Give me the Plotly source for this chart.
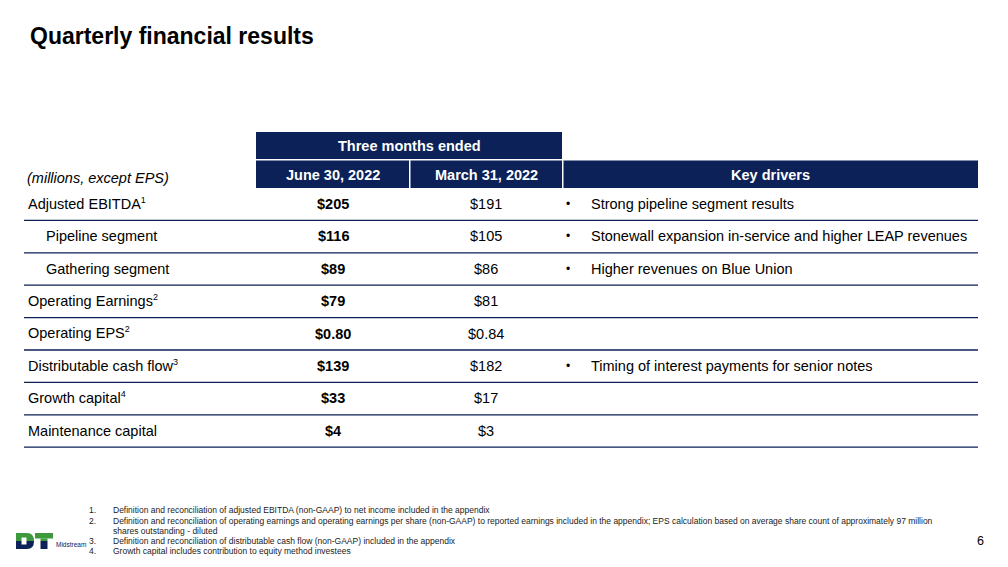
import plotly.graph_objects as go

# table content
SUP = "<sup><span style='font-size:9px'>{}</span></sup>"
row_labels = [
    "Adjusted EBITDA" + SUP.format(1),
    "Pipeline segment",
    "Gathering segment",
    "Operating Earnings" + SUP.format(2),
    "Operating EPS" + SUP.format(2),
    "Distributable cash flow" + SUP.format(3),
    "Growth capital" + SUP.format(4),
    "Maintenance capital",
]
row_indent = [False, True, True, False, False, False, False, False]
q2_2022 = ["$205", "$116", "$89", "$79", "$0.80", "$139", "$33", "$4"]
q1_2022 = ["$191", "$105", "$86", "$81", "$0.84", "$182", "$17", "$3"]
key_drivers = [
    "Strong pipeline segment results",
    "Stonewall expansion in-service and higher LEAP revenues",
    "Higher revenues on Blue Union",
    "",
    "",
    "Timing of interest payments for senior notes",
    "",
    "",
]
col_headers = ["June 30, 2022", "March 31, 2022", "Key drivers"]
group_header = "Three months ended"
units_note = "(millions, except EPS)"
footnotes = [
    ("1.", "Definition and reconciliation of adjusted EBITDA (non-GAAP) to net income included in the appendix"),
    ("2.", "Definition and reconciliation of operating earnings and operating earnings per share (non-GAAP) to reported earnings included in the appendix; EPS calculation based on average share count of approximately 97 million"),
    ("", "shares outstanding - diluted"),
    ("3.", "Definition and reconciliation of distributable cash flow (non-GAAP) included in the appendix"),
    ("4.", "Growth capital includes contribution to equity method investees"),
]
title = "Quarterly financial results"
page_no = "6"

NAVY = "#0c2157"
GREEN = "#3d9a3c"
FONT = "Arial, Liberation Sans, sans-serif"

# page is drawn in slide pixels; the browser body adds an 8px margin
W, H = 1008, 567
PAD = 8
fig = go.Figure()
shapes = []
ann = []


def text(x, y, s, size=14.5, color="black", anchor="left", family=FONT, yshift=0):
    ann.append(dict(x=x, y=y, xref="x", yref="y", text=s, showarrow=False,
                    xanchor=anchor, yanchor="middle", yshift=yshift,
                    font=dict(family=family, size=size, color=color)))


def rect(x0, y0, x1, y1, color):
    shapes.append(dict(type="rect", xref="x", yref="y", x0=x0, y0=y0, x1=x1, y1=y1,
                       fillcolor=color, line=dict(width=0), layer="below"))


# title
text(28, 36, "<b>" + title + "</b>", size=23)

# header boxes
col_edges = [(256, 409), (410.5, 562), (563.5, 978)]
rect(256, 132, 562, 159, NAVY)
text(409, 145.5, "<b>" + group_header + "</b>", color="white", anchor="center")
for (x0, x1), h in zip(col_edges, col_headers):
    rect(x0, 160.5, x1, 188, NAVY)
    text((x0 + x1) / 2, 174.5, "<b>" + h + "</b>", color="white", anchor="center")
text(25, 178, "<i>" + units_note + "</i>")

# body rows
row_top = 188
row_h = 32.4
for i, lab in enumerate(row_labels):
    yc = row_top + row_h * i + 16
    text(44 if row_indent[i] else 26, yc, lab, yshift=1 if "<sup>" in lab else 0)
    text(333, yc, "<b>" + q2_2022[i] + "</b>", anchor="center")
    text(486, yc, q1_2022[i], anchor="center")
    if key_drivers[i]:
        text(568, yc, "\u2022", size=12, anchor="center")
        text(589, yc, key_drivers[i])
    yl = row_top + row_h * (i + 1)
    shapes.append(dict(type="line", xref="x", yref="y", x0=24, x1=978, y0=yl, y1=yl,
                       line=dict(color=NAVY, width=1.3)))

# footnotes
foot_y = [510, 520.5, 530.5, 541, 551]
for (num, s), y in zip(footnotes, foot_y):
    if num:
        text(87, y, num, size=8.5, color="#222222")
    text(111, y, s, size=8.5, color="#222222")

# page number
text(986, 541, page_no, size=12.5, anchor="right")

# logo
shapes.append(dict(type="path", xref="x", yref="y",
                   path="M16,533 L27,533 Q34,533 34,541 L16,541 Z",
                   fillcolor=GREEN, line=dict(width=0)))
shapes.append(dict(type="path", xref="x", yref="y",
                   path="M16,541 L34,541 Q34,549 27,549 L16,549 Z",
                   fillcolor=NAVY, line=dict(width=0)))
shapes.append(dict(type="rect", xref="x", yref="y", x0=21.5, x1=26.5, y0=537.5, y1=544.5,
                   fillcolor="white", line=dict(width=0)))
shapes.append(dict(type="rect", xref="x", yref="y", x0=35, x1=53, y0=533, y1=538.5,
                   fillcolor=GREEN, line=dict(width=0)))
shapes.append(dict(type="rect", xref="x", yref="y", x0=40.5, x1=47.5, y0=538.5, y1=541,
                   fillcolor=GREEN, line=dict(width=0)))
shapes.append(dict(type="rect", xref="x", yref="y", x0=40.5, x1=47.5, y0=541, y1=549,
                   fillcolor=NAVY, line=dict(width=0)))
text(54, 544, "Midstream", size=6.5, color=NAVY)

fig.update_layout(
    width=W - PAD, height=H - PAD,
    margin=dict(l=0, r=0, t=0, b=0),
    paper_bgcolor="white", plot_bgcolor="white",
    xaxis=dict(range=[PAD, W], visible=False, fixedrange=True),
    yaxis=dict(range=[H, PAD], visible=False, fixedrange=True),
    shapes=shapes, annotations=ann, showlegend=False,
)
fig.write_html("out.html")
